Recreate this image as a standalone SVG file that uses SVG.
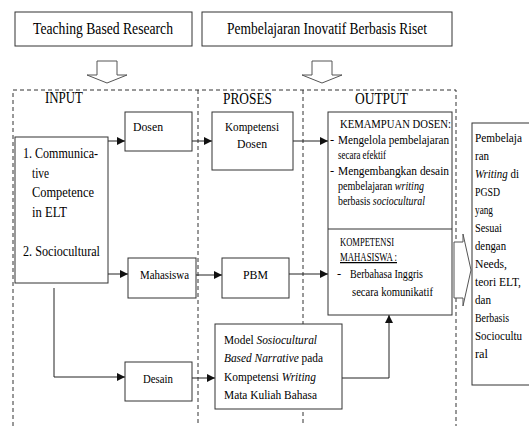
<svg xmlns="http://www.w3.org/2000/svg" width="529" height="426" viewBox="0 0 529 426">
<style>
text{font-family:"Liberation Serif","Times New Roman",serif;fill:#000;}
.box{fill:#fff;stroke:#333;stroke-width:1;}
.dash{fill:none;stroke:#333;stroke-width:1;stroke-dasharray:4,3;}
.con{fill:none;stroke:#222;stroke-width:1;marker-end:url(#ah);}
.blk{fill:#fff;stroke:#555;stroke-width:1;}
.h{font-size:16px;}
.m{font-size:15px;}
.s{font-size:13.5px;}
.xs{font-size:12.5px;}
.i{font-style:italic;}
</style>
<defs>
<marker id="ah" markerUnits="userSpaceOnUse" markerWidth="8" markerHeight="8" refX="8" refY="4" orient="auto">
<path d="M0,0 L8,4 L0,8 z" fill="#111"/>
</marker>
</defs>
<rect width="529" height="426" fill="#fff"/>

<g id="frame">
<path class="dash" d="M13,426 V90 H456 V426"/>
<path class="dash" d="M198,90 V426"/>
<path class="dash" d="M303,90 V426"/>
</g>

<g id="top1">
<rect class="box" x="15" y="12" width="177" height="34"/>
<text class="h" x="33" y="34" textLength="140" lengthAdjust="spacingAndGlyphs">Teaching Based Research</text>
</g>
<g id="top2">
<rect class="box" x="202" y="12" width="250" height="34"/>
<text class="h" x="227" y="34" textLength="200" lengthAdjust="spacingAndGlyphs">Pembelajaran Inovatif Berbasis Riset</text>
</g>
<g id="blockarrows">
<polygon class="blk" points="97,61 117,61 117,75 127,75 107,83 87,75 97,75"/>
<polygon class="blk" points="312,61 332,61 332,75 342,75 322,83 302,75 312,75"/>
<polygon class="blk" points="454,242 463,242 463,234 471,270 463,306 463,298 454,298"/>
</g>

<g id="labels">
<text class="h" x="45" y="103" textLength="38" lengthAdjust="spacingAndGlyphs">INPUT</text>
<text class="h" x="223" y="104" textLength="49" lengthAdjust="spacingAndGlyphs">PROSES</text>
<text class="h" x="355" y="104" textLength="53" lengthAdjust="spacingAndGlyphs">OUTPUT</text>
</g>

<g id="connectors">
<line class="con" x1="108" y1="141" x2="125" y2="141"/>
<line class="con" x1="108" y1="274" x2="128" y2="274"/>
<line class="con" x1="192" y1="141" x2="212" y2="141"/>
<line class="con" x1="293" y1="141" x2="328" y2="141"/>
<line class="con" x1="196" y1="275" x2="222" y2="275"/>
<line class="con" x1="289" y1="274" x2="328" y2="274"/>
<path class="con" d="M54,288 V377 H125"/>
<line class="con" x1="192" y1="378" x2="215" y2="378"/>
<path class="con" d="M342,378 H389 V315"/>
</g>

<g id="input-box">
<rect class="box" x="15" y="137" width="93" height="146"/>
<text class="m" x="23" y="158" textLength="75" lengthAdjust="spacingAndGlyphs">1. Communica-</text>
<text class="m" x="32" y="178" textLength="17" lengthAdjust="spacingAndGlyphs">tive</text>
<text class="m" x="32" y="197" textLength="62" lengthAdjust="spacingAndGlyphs">Competence</text>
<text class="m" x="32" y="217" textLength="35" lengthAdjust="spacingAndGlyphs">in ELT</text>
<text class="m" x="23" y="256" textLength="77" lengthAdjust="spacingAndGlyphs">2. Sociocultural</text>
</g>

<g id="dosen">
<rect class="box" x="125" y="112" width="67" height="39"/>
<text class="s" x="133" y="131" textLength="30" lengthAdjust="spacingAndGlyphs">Dosen</text>
</g>
<g id="mahasiswa">
<rect class="box" x="128" y="258" width="68" height="40"/>
<text class="s" x="140" y="279" textLength="49" lengthAdjust="spacingAndGlyphs">Mahasiswa</text>
</g>
<g id="desain">
<rect class="box" x="125" y="362" width="67" height="39"/>
<text class="s" x="143" y="383" textLength="30" lengthAdjust="spacingAndGlyphs">Desain</text>
</g>

<g id="kompetensi-dosen">
<rect class="box" x="212" y="112" width="81" height="58"/>
<text class="s" x="225" y="131" textLength="54" lengthAdjust="spacingAndGlyphs">Kompetensi</text>
<text class="s" x="237" y="148" textLength="30" lengthAdjust="spacingAndGlyphs">Dosen</text>
</g>
<g id="pbm">
<rect class="box" x="222" y="258" width="67" height="40"/>
<text class="s" x="243" y="279" textLength="25" lengthAdjust="spacingAndGlyphs">PBM</text>
</g>
<g id="model">
<rect class="box" x="215" y="324" width="127" height="85"/>
<text class="s" x="224" y="344" textLength="93" lengthAdjust="spacingAndGlyphs">Model <tspan class="i">Sosiocultural</tspan></text>
<text class="s" x="224" y="362" textLength="99" lengthAdjust="spacingAndGlyphs"><tspan class="i">Based Narrative</tspan> pada</text>
<text class="s" x="224" y="381" textLength="92" lengthAdjust="spacingAndGlyphs">Kompetensi <tspan class="i">Writing</tspan></text>
<text class="s" x="224" y="399" textLength="93" lengthAdjust="spacingAndGlyphs">Mata Kuliah Bahasa</text>
</g>

<g id="output-box">
<rect class="box" x="328" y="112" width="124" height="203"/>
<line x1="328" y1="229" x2="452" y2="229" stroke="#333" stroke-width="1"/>
<text class="xs" x="340" y="128" textLength="111" lengthAdjust="spacingAndGlyphs">KEMAMPUAN DOSEN:</text>
<text class="xs" x="330" y="144">-</text>
<text class="xs" x="338" y="144" textLength="111" lengthAdjust="spacingAndGlyphs">Mengelola  pembelajaran</text>
<text class="xs" x="338" y="159" textLength="48" lengthAdjust="spacingAndGlyphs">secara efektif</text>
<text class="xs" x="330" y="175">-</text>
<text class="xs" x="338" y="175" textLength="111" lengthAdjust="spacingAndGlyphs">Mengembangkan  desain</text>
<text class="xs" x="338" y="190" textLength="86" lengthAdjust="spacingAndGlyphs">pembelajaran <tspan class="i">writing</tspan></text>
<text class="xs" x="338" y="205" textLength="87" lengthAdjust="spacingAndGlyphs">berbasis <tspan class="i">sociocultural</tspan></text>
<text class="xs" x="340" y="246" textLength="54" lengthAdjust="spacingAndGlyphs">KOMPETENSI</text>
<text class="xs" x="340" y="261" textLength="57" lengthAdjust="spacingAndGlyphs" text-decoration="underline">MAHASISWA :</text>
<text class="xs" x="337" y="278">-</text>
<text class="xs" x="350" y="278" textLength="73" lengthAdjust="spacingAndGlyphs">Berbahasa Inggris</text>
<text class="xs" x="352" y="296" textLength="81" lengthAdjust="spacingAndGlyphs">secara komunikatif</text>
</g>

<g id="final-box">
<rect class="box" x="472" y="123" width="60" height="262"/>
<text class="s" x="475" y="142" textLength="47" lengthAdjust="spacingAndGlyphs">Pembelaja</text>
<text class="s" x="475" y="160" textLength="14" lengthAdjust="spacingAndGlyphs">ran</text>
<text class="s" x="475" y="178" textLength="44" lengthAdjust="spacingAndGlyphs"><tspan class="i">Writing</tspan> di</text>
<text class="s" x="475" y="196" textLength="25" lengthAdjust="spacingAndGlyphs">PGSD</text>
<text class="s" x="475" y="214" textLength="18" lengthAdjust="spacingAndGlyphs">yang</text>
<text class="s" x="475" y="232" textLength="27" lengthAdjust="spacingAndGlyphs">Sesuai</text>
<text class="s" x="475" y="250" textLength="31" lengthAdjust="spacingAndGlyphs">dengan</text>
<text class="s" x="475" y="268" textLength="32" lengthAdjust="spacingAndGlyphs">Needs,</text>
<text class="s" x="475" y="286" textLength="46" lengthAdjust="spacingAndGlyphs">teori ELT,</text>
<text class="s" x="475" y="304" textLength="16" lengthAdjust="spacingAndGlyphs">dan</text>
<text class="s" x="475" y="322" textLength="34" lengthAdjust="spacingAndGlyphs">Berbasis</text>
<text class="s" x="475" y="340" textLength="47" lengthAdjust="spacingAndGlyphs">Sociocultu</text>
<text class="s" x="475" y="358" textLength="13" lengthAdjust="spacingAndGlyphs">ral</text>
</g>
</svg>
